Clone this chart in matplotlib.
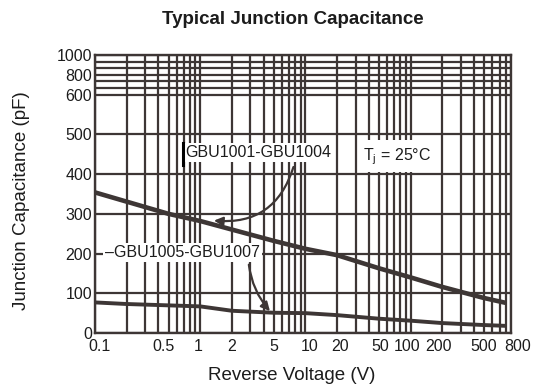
import numpy as np
import matplotlib
matplotlib.use('Agg')
import matplotlib.pyplot as plt
from matplotlib.ticker import NullFormatter
from matplotlib.transforms import ScaledTranslation

plt.rcParams['font.family'] = ['Liberation Sans', 'DejaVu Sans']

# curve data
volts_hi = [0.1, 0.5, 1, 5, 10, 20, 50, 100, 200, 500, 800]
cap_hi   = [354, 300, 282, 232, 212, 196, 163, 140, 116, 88, 76]

volts_lo = [0.1, 0.2, 1, 2, 5, 10, 20, 50, 100, 200, 500, 800]
cap_lo   = [77, 73, 67, 56, 51, 50, 45, 36, 31, 25, 20, 18]

x_ticks  = [0.1, 0.5, 1, 2, 5, 10, 20, 50, 100, 200, 500, 800]
x_labels = ['0.1', '0.5', '1', '2', '5', '10', '20', '50', '100', '200', '500', '800']
y_ticks  = [0, 100, 200, 300, 400, 500, 600, 800, 1000]
y_minor  = [666.7, 733.3, 866.7, 933.3]

# the datasheet's x labels sit a little off their grid lines (pixels)
x_label_shift = [5, -5, -2, 0, 0, 4, 3, 1, -4, -4, 0, 12]

ink = '#3d3635'
txt = '#1c1c1c'


# the chart's y axis is squeezed above 600
def fwd(v):
    v = np.asarray(v, dtype=float)
    return np.where(v <= 600, v, 600 + (v - 600) / 4)

def inv(p):
    p = np.asarray(p, dtype=float)
    return np.where(p <= 600, p, 600 + (p - 600) * 4)


fig = plt.figure(figsize=(5.4, 3.89), dpi=100)
ax = fig.add_axes([95/540, 56/389, 416/540, 278/389])

ax.set_xscale('log')
ax.set_yscale('function', functions=(fwd, inv))
ax.set_xlim(0.1, 800)
ax.set_ylim(0, 1000)

ax.set_xticks(x_ticks)
ax.set_xticklabels(x_labels)
minor_x = [k * 10.0**d for d in range(-1, 3) for k in range(2, 10)]
ax.set_xticks(minor_x, minor=True)
ax.xaxis.set_minor_formatter(NullFormatter())
ax.set_yticks(y_ticks)
ax.set_yticklabels([str(v) for v in y_ticks])
ax.set_yticks(y_minor, minor=True)
ax.yaxis.set_minor_formatter(NullFormatter())

ax.tick_params(which='both', length=0, labelsize=11.5, colors=txt)
ax.tick_params(axis='x', pad=4)
ax.tick_params(axis='y', pad=2)
for lab, dx in zip(ax.get_xticklabels(), x_label_shift):
    lab.set_transform(lab.get_transform() +
                      ScaledTranslation(dx / 100, 0, fig.dpi_scale_trans))

ax.grid(which='both', color=ink, lw=1.6)
ax.set_axisbelow(True)
for s in ax.spines.values():
    s.set_color(ink)
    s.set_linewidth(1.7)

ax.plot(volts_hi, cap_hi, color=ink, lw=3.3, solid_capstyle='butt', zorder=3)
ax.plot(volts_lo, cap_lo, color=ink, lw=2.8, solid_capstyle='butt', zorder=3)

box = dict(facecolor='white', edgecolor='none', pad=1.5)

ax.text(3.6, 455, 'GBU1001-GBU1004', fontsize=11.5, color=txt,
        ha='center', va='center', bbox=box, zorder=5)
ax.plot([0.212, 0.212], [0.605, 0.685], transform=ax.transAxes,
        color='black', lw=2.2, zorder=6)
ax.annotate('', xy=(1.35, 283), xytext=(7.7, 418),
            arrowprops=dict(arrowstyle='-|>', connectionstyle='arc3,rad=-0.4',
                            color=ink, lw=1.6, mutation_scale=13,
                            shrinkA=0, shrinkB=0), zorder=6)

ax.text(75, 445, r'T$_\mathregular{j}$ = 25°C', fontsize=11.5, color=txt,
        ha='center', va='center', bbox=dict(facecolor='white', edgecolor='none', pad=4),
        zorder=5)

ax.text(0.68, 203, '\u2013GBU1005-GBU1007', fontsize=11.5, color=txt,
        ha='center', va='center', bbox=box, zorder=5)
ax.annotate('', xy=(4.6, 55), xytext=(2.9, 172),
            arrowprops=dict(arrowstyle='-|>', connectionstyle='arc3,rad=0.15',
                            color=ink, lw=1.6, mutation_scale=13,
                            shrinkA=0, shrinkB=0), zorder=6)

fig.text(293/540, 1 - 20/389, 'Typical Junction Capacitance', fontsize=13.5,
         fontweight='bold', color=txt, ha='center', va='center')
fig.text(292/540, 1 - 376/389, 'Reverse Voltage (V)', fontsize=13.5,
         color=txt, ha='center', va='center')
fig.text(22/540, 1 - 201/389, 'Junction Capacitance (pF)', fontsize=13.5,
         color=txt, ha='center', va='center', rotation=90)

fig.savefig('out.png', dpi=100, facecolor='white')
